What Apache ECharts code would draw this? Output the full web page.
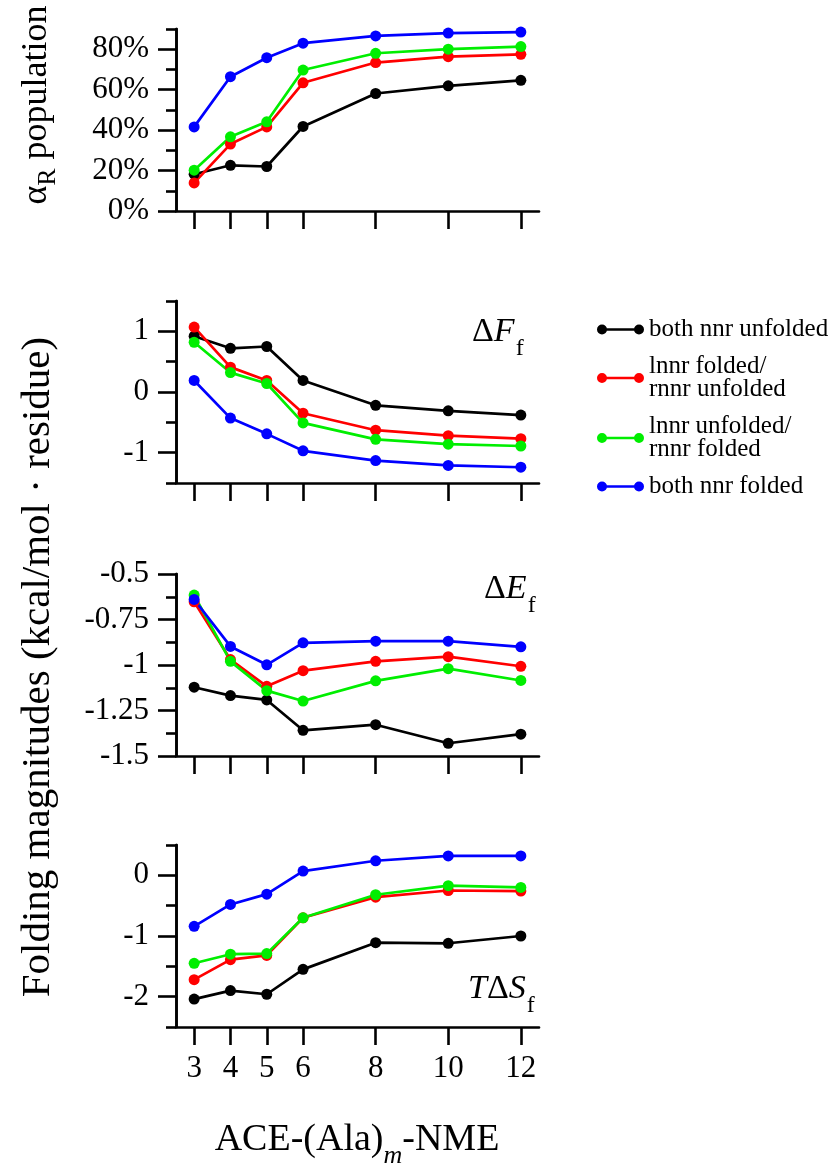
<!DOCTYPE html>
<html>
<head>
<meta charset="utf-8">
<script src="https://cdn.jsdelivr.net/npm/echarts@6/dist/echarts.min.js"></script>
<style>
  html, body { margin: 0; padding: 0; background: #fff; }
  #chart { width: 833px; height: 1165px; }
</style>
</head>
<body>
<div id="chart"></div>
<script>
// chain length m
var xVals = [3, 4, 5, 6, 8, 10, 12];

// alpha_R population (%)
var popBoth0 = [18.2, 22.6, 22.0, 41.8, 58.1, 61.9, 64.6];
var popLeft = [13.9, 33.1, 41.6, 63.4, 73.4, 76.3, 77.5];
var popRight = [20.2, 36.7, 44.1, 69.7, 78.0, 80.0, 81.3];
var popBoth1 = [41.6, 66.4, 75.8, 83.0, 86.6, 88.0, 88.5];

// dF_f
var dfBoth0 = [0.92, 0.72, 0.75, 0.19, -0.22, -0.31, -0.38];
var dfLeft = [1.07, 0.41, 0.19, -0.35, -0.63, -0.72, -0.77];
var dfRight = [0.82, 0.32, 0.14, -0.51, -0.78, -0.86, -0.89];
var dfBoth1 = [0.19, -0.43, -0.69, -0.97, -1.13, -1.21, -1.24];

// dE_f
var deBoth0 = [-1.122, -1.168, -1.192, -1.359, -1.328, -1.43, -1.38];
var deLeft = [-0.653, -0.97, -1.117, -1.031, -0.98, -0.954, -1.007];
var deRight = [-0.616, -0.98, -1.141, -1.198, -1.087, -1.02, -1.085];
var deBoth1 = [-0.64, -0.898, -0.999, -0.878, -0.869, -0.869, -0.9];

// T dS_f
var tsBoth0 = [-2.04, -1.9, -1.96, -1.55, -1.11, -1.12, -1.0];
var tsLeft = [-1.72, -1.39, -1.32, -0.7, -0.36, -0.25, -0.26];
var tsRight = [-1.45, -1.3, -1.29, -0.7, -0.32, -0.17, -0.2];
var tsBoth1 = [-0.84, -0.48, -0.31, 0.07, 0.24, 0.32, 0.32];

// tick values
var xTicks = [3, 4, 5, 6, 8, 10, 12];
var popTicks = [0, 20, 40, 60, 80];
var popMinor = [10, 30, 50, 70, 90];
var dfTicks = [-1, 0, 1];
var dfMinor = [-1.5, -0.5, 0.5, 1.5];
var deTicks = [-1.5, -1.25, -1, -0.75, -0.5];
var deMinor = [-1.375, -1.125, -0.875, -0.625];
var tsTicks = [-2, -1, 0];
var tsMinor = [-2.5, -1.5, -0.5, 0.5];

var seriesNames = ["both nnr unfolded", "lnnr folded/rnnr unfolded", "lnnr unfolded/rnnr folded", "both nnr folded"];
var legendLabels = ["both nnr unfolded", "lnnr folded/\nrnnr unfolded", "lnnr unfolded/\nrnnr folded", "both nnr folded"];
var colors = ["#000000", "#ff0000", "#00ee00", "#0000ff"];

var serif = "'Liberation Serif', 'Times New Roman', serif";

var panels = [
  { top: 29, min: 0, max: 90, ticks: popTicks, minor: popMinor, pct: true,
    data: [popBoth0, popLeft, popRight, popBoth1] },
  { top: 301, min: -1.5, max: 1.5, ticks: dfTicks, minor: dfMinor,
    data: [dfBoth0, dfLeft, dfRight, dfBoth1] },
  { top: 574, min: -1.5, max: -0.5, ticks: deTicks, minor: deMinor,
    data: [deBoth0, deLeft, deRight, deBoth1] },
  { top: 845, min: -2.5, max: 0.5, ticks: tsTicks, minor: tsMinor,
    data: [tsBoth0, tsLeft, tsRight, tsBoth1] }
];

var axisLine = { show: true, onZero: false, lineStyle: { color: "#000", width: 2.6 } };

var grids = [], xAxes = [], yAxes = [], series = [];
panels.forEach(function (p, i) {
  grids.push({ left: 176, right: 294, top: p.top, height: 182, outerBoundsMode: "none" });
  xAxes.push({
    type: "value", gridIndex: i, min: 2.5, max: 12.5,
    axisLine: axisLine,
    axisTick: { show: true, inside: false, length: 18, customValues: xTicks,
      lineStyle: { color: "#000", width: 2.6 } },
    axisLabel: { show: i === 3, customValues: xTicks, margin: 26,
      fontSize: 31, fontFamily: serif, color: "#000" },
    splitLine: { show: false }
  });
  // major ticks + labels
  yAxes.push({
    type: "value", gridIndex: i, min: p.min, max: p.max,
    axisLine: axisLine,
    axisTick: { show: true, inside: false, length: 18, customValues: p.ticks,
      lineStyle: { color: "#000", width: 2.6 } },
    axisLabel: { customValues: p.ticks, margin: 27, fontSize: 31,
      fontFamily: serif, color: "#000",
      formatter: p.pct ? function (v) { return v + "%"; } : function (v) { return String(v); } },
    splitLine: { show: false }
  });
  // minor ticks
  yAxes.push({
    type: "value", gridIndex: i, min: p.min, max: p.max, position: "left",
    axisLine: axisLine,
    axisTick: { show: true, inside: false, length: 10, customValues: p.minor,
      lineStyle: { color: "#000", width: 2.6 } },
    axisLabel: { show: false },
    splitLine: { show: false }
  });
  p.data.forEach(function (vals, k) {
    series.push({
      type: "line", name: seriesNames[k],
      xAxisIndex: i, yAxisIndex: 2 * i,
      data: xVals.map(function (x, j) { return [x, vals[j]]; }),
      symbol: "circle", symbolSize: 11, showSymbol: true,
      lineStyle: { color: colors[k], width: 2.7 },
      itemStyle: { color: colors[k] },
      emphasis: { disabled: true }
    });
  });
});

var legendIcon = "path://M0,5A5,5,0,1,1,10,5A5,5,0,1,1,0,5Z M37,5A5,5,0,1,1,47,5A5,5,0,1,1,37,5Z M5,3.7L42,3.7L42,6.3L5,6.3Z";

function subText(x, y, rot, text, rich) {
  return {
    type: "text", x: x, y: y, rotation: rot,
    style: { text: text, rich: rich, fill: "#000", font: "36px " + serif,
      align: "center", verticalAlign: "middle",
      textAlign: "center", textVerticalAlign: "middle" }
  };
}
function annot(x, y, text, rich) {
  return {
    type: "text", x: x, y: y,
    style: { text: text, rich: rich, fill: "#000", font: "34px " + serif,
      align: "left", verticalAlign: "middle",
      textAlign: "left", textVerticalAlign: "middle" }
  };
}

var annRich = {
  a: { fontSize: 34, fontFamily: serif, color: "#000" },
  i: { fontSize: 34, fontFamily: serif, fontStyle: "italic", color: "#000" },
  s: { fontSize: 24, fontFamily: serif, color: "#000", padding: [34, 0, 0, 1] }
};

var chart = echarts.init(document.getElementById("chart"), null, { renderer: "canvas" });
chart.setOption({
  animation: false,
  backgroundColor: "#fff",
  grid: grids,
  xAxis: xAxes,
  yAxis: yAxes,
  series: series,
  legend: {
    orient: "vertical", left: 592, top: 312,
    data: seriesNames, icon: legendIcon,
    itemWidth: 47, itemHeight: 10, itemGap: 12,
    selectedMode: false,
    formatter: function (name) { return legendLabels[seriesNames.indexOf(name)]; },
    textStyle: { fontSize: 25, fontFamily: serif, color: "#000", lineHeight: 23 }
  },
  graphic: [
    subText(37, 105, Math.PI / 2, "{a|α}{s|R}{a| population}", {
      a: { fontSize: 36, fontFamily: serif, color: "#000" },
      s: { fontSize: 26, fontFamily: serif, color: "#000", padding: [22, 0, 0, 0] }
    }),
    subText(38, 667, Math.PI / 2, "{a|Folding magnitudes (kcal/mol · residue)}", {
      a: { fontSize: 41, fontFamily: serif, color: "#000" }
    }),
    subText(357, 1140, 0, "{a|ACE-(Ala)}{m|m}{a|-NME}", {
      a: { fontSize: 38, fontFamily: serif, color: "#000" },
      m: { fontSize: 26, fontFamily: serif, fontStyle: "italic", color: "#000", padding: [32, 0, 0, 0] }
    }),
    annot(472, 332, "{a|Δ}{i|F}{s|f}", annRich),
    annot(484, 589, "{a|Δ}{i|E}{s|f}", annRich),
    annot(468, 989, "{i|T}{a|Δ}{i|S}{s|f}", annRich)
  ]
});
</script>
</body>
</html>
